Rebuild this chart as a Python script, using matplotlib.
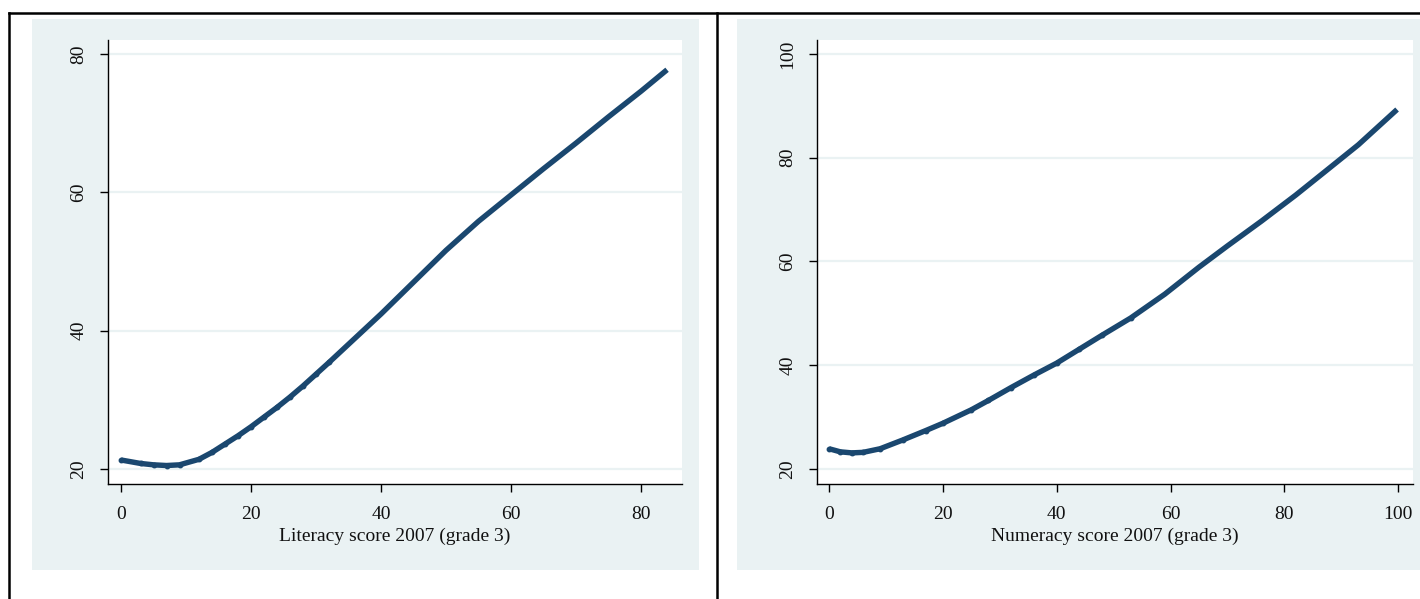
import matplotlib
matplotlib.use("Agg")
import matplotlib.pyplot as plt
from matplotlib.patches import Rectangle
from matplotlib.lines import Line2D

# Fitted score curves (grade 3, 2007)
lit_x = [0, 3, 5, 7, 9, 12, 14, 16, 18, 20, 22, 24, 26, 28, 30, 32, 36, 40,
         45, 50, 55, 60, 65, 70, 75, 80, 84]
lit_y = [21.3, 20.8, 20.6, 20.5, 20.6, 21.4, 22.4, 23.6, 24.8, 26.1, 27.5, 28.9,
         30.4, 32.0, 33.7, 35.4, 38.9, 42.4, 47.0, 51.6, 55.8, 59.6, 63.4, 67.1,
         70.9, 74.6, 77.7]

num_x = [0, 2, 4, 6, 9, 13, 17, 20, 25, 28, 32, 36, 40, 44, 48, 53, 59, 65,
         70, 76, 82, 87, 93, 99.8]
num_y = [23.9, 23.3, 23.1, 23.2, 23.9, 25.6, 27.4, 28.8, 31.4, 33.2, 35.7, 38.1,
         40.4, 43.1, 45.8, 49.1, 53.7, 58.9, 63.0, 67.8, 72.8, 77.2, 82.5, 89.3]

lit_xticks = [0, 20, 40, 60, 80]
lit_yticks = [20, 40, 60, 80]
num_xticks = [0, 20, 40, 60, 80, 100]
num_yticks = [20, 40, 60, 80, 100]

lit_label = "Literacy score 2007 (grade 3)"
num_label = "Numeracy score 2007 (grade 3)"

NAVY = "#1a476f"
REGION = "#eaf2f3"
FONT = "Liberation Serif"

W, H = 1420, 599
fig = plt.figure(figsize=(W / 100, H / 100), dpi=100)
fig.patch.set_facecolor("white")


def fx(px):
    return px / W


def fy(py):
    return 1 - py / H


# graph regions (light blue-grey backgrounds)
for x0, x1 in [(32, 699), (737, 1425)]:
    fig.patches.append(Rectangle((fx(x0), fy(570)), fx(x1 - x0), (570 - 19) / H,
                                 transform=fig.transFigure, facecolor=REGION,
                                 edgecolor="none", zorder=-10))

# outer frame lines
for xs, ys in [((9, 1420), (13, 13)), ((9, 9), (13, 599)), ((717, 717), (13, 599))]:
    fig.lines.append(Line2D([fx(v) for v in xs], [fy(v) for v in ys],
                            transform=fig.transFigure, color="black", lw=1.8,
                            zorder=-5))


def panel(rect, xs, ys, xticks, yticks, xlim, ylim, xlabel):
    ax = fig.add_axes(rect)
    ax.set_facecolor("white")
    ax.plot(xs, ys, color=NAVY, lw=3.9, solid_capstyle="butt",
            solid_joinstyle="round", zorder=3)
    ax.plot(xs[:16], ys[:16], 'o', color=NAVY, ms=3.2, zorder=3)
    ax.set_xlim(*xlim)
    ax.set_ylim(*ylim)
    ax.set_xticks(xticks)
    ax.set_yticks(yticks)
    ax.grid(axis="y", color=REGION, lw=1.6, zorder=1)
    ax.grid(axis="x", visible=False)
    ax.set_axisbelow(True)
    for s in ("top", "right"):
        ax.spines[s].set_visible(False)
    for s in ("left", "bottom"):
        ax.spines[s].set_color("black")
        ax.spines[s].set_linewidth(1.0)
    ax.tick_params(axis="both", direction="out", length=6, width=1.0,
                   color="black", labelsize=14)
    ax.tick_params(axis="x", pad=10)
    ax.tick_params(axis="y", pad=15)
    for lab in ax.get_yticklabels():
        lab.set_rotation(90)
        lab.set_va("center")
        lab.set_ha("center")
    for lab in ax.get_xticklabels() + ax.get_yticklabels():
        lab.set_family(FONT)
        lab.set_color("#111111")
    ax.set_xlabel(xlabel, family=FONT, fontsize=14, color="#111111",
                  labelpad=3)
    return ax


panel([fx(108), fy(484), fx(682 - 108), (484 - 40) / H],
      lit_x, lit_y, lit_xticks, lit_yticks, (-2.0, 86.3), (17.83, 82.0),
      lit_label)
panel([fx(817), fy(484), fx(1413 - 817), (484 - 40) / H],
      num_x, num_y, num_xticks, num_yticks, (-2.1, 102.6), (17.1, 102.7),
      num_label)

fig.savefig("out.png", dpi=100, facecolor="white")
